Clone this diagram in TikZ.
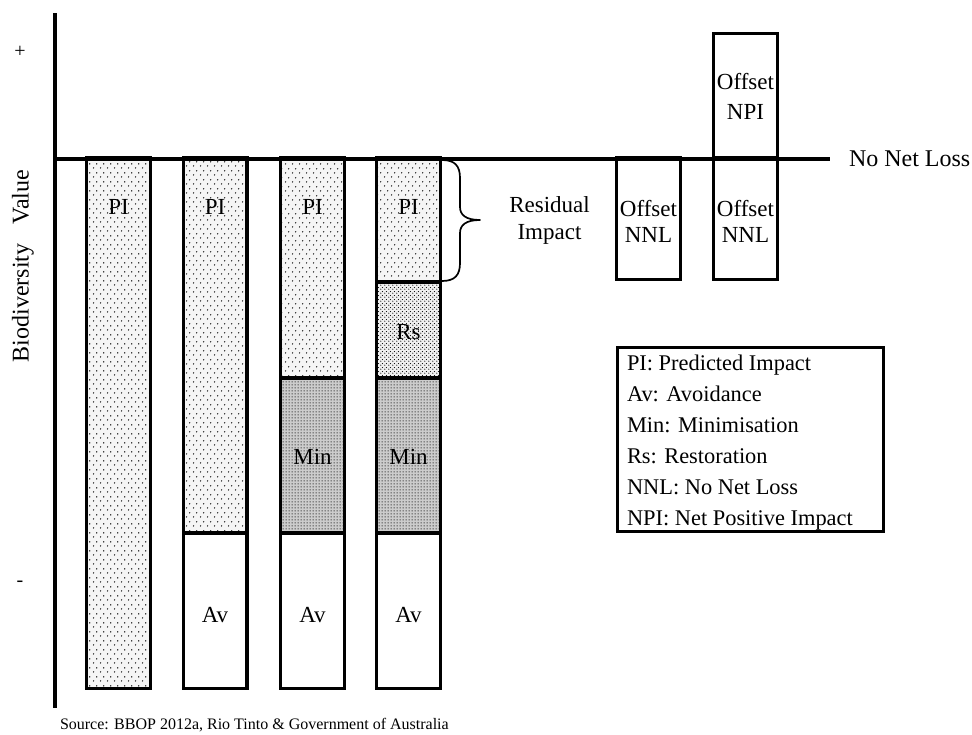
\documentclass[tikz,border=0pt]{standalone}
\usepackage{fontspec}
\setmainfont{Liberation Serif}
\usetikzlibrary{patterns}
\pgfdeclarepatternformonly{pidots}{\pgfqpoint{0pt}{0pt}}{\pgfqpoint{6.6pt}{8.6pt}}{\pgfqpoint{6.6pt}{8.6pt}}{%
  \pgfpathcircle{\pgfqpoint{1.65pt}{2.15pt}}{0.75pt}%
  \pgfpathcircle{\pgfqpoint{4.95pt}{6.45pt}}{0.75pt}%
  \pgfusepath{fill}}
\pgfdeclarepatternformonly{rsdots}{\pgfqpoint{0pt}{0pt}}{\pgfqpoint{4pt}{4pt}}{\pgfqpoint{4pt}{4pt}}{%
  \pgfpathcircle{\pgfqpoint{1pt}{1pt}}{0.7pt}%
  \pgfpathcircle{\pgfqpoint{3pt}{3pt}}{0.7pt}%
  \pgfusepath{fill}}
\pgfdeclarepatternformonly{mindots}{\pgfqpoint{0pt}{0pt}}{\pgfqpoint{3pt}{3pt}}{\pgfqpoint{3pt}{3pt}}{%
  \pgfpathcircle{\pgfqpoint{1.5pt}{1.5pt}}{0.75pt}%
  \pgfusepath{fill}}
\begin{document}
\begin{tikzpicture}[x=1pt,y=-1pt,
  every node/.style={inner sep=0pt, outer sep=0pt},
  lbl/.style={font=\fontsize{23}{26}\selectfont, align=center},
  bar/.style={draw, line width=3.3pt, minimum width=63.7pt},
  pibar/.style={bar, preaction={fill=black!4}, pattern=pidots},
  rsbar/.style={bar, preaction={fill=black!6}, pattern=rsdots},
  minbar/.style={bar, preaction={fill=black!20}, pattern=mindots},
  avbar/.style={bar, fill=white},
  offbox/.style={bar, fill=white},
  legbox/.style={draw, line width=3.5pt, minimum width=266pt, minimum height=184pt},
  legtext/.style={font=\fontsize{22.4}{26}\selectfont, anchor=base west},
  axisline/.style={line width=4pt},
  bracestyle/.style={line width=1.7pt, line join=round, line cap=round}]
\useasboundingbox (0,0) rectangle (972,734);
% column 1
\node[pibar, minimum height=530.5pt] (c1pi) at (118.5,423.25) {};
% column 2
\node[pibar, minimum height=375pt] (c2pi) at (215,345.5) {};
\node[avbar, minimum height=155.5pt] (c2av) at (215,610.75) {};
% column 3
\node[pibar, minimum height=220pt] (c3pi) at (312.5,268) {};
\node[minbar, minimum height=155pt] (c3min) at (312.5,455.5) {};
\node[avbar, minimum height=155.5pt] (c3av) at (312.5,610.75) {};
% column 4
\node[pibar, minimum height=124pt] (c4pi) at (408.5,220) {};
\node[rsbar, minimum height=96pt] (c4rs) at (408.5,330) {};
\node[minbar, minimum height=155pt] (c4min) at (408.5,455.5) {};
\node[avbar, minimum height=155.5pt] (c4av) at (408.5,610.75) {};
% offsets
\node[offbox, minimum height=121.5pt] (offa) at (648.5,218.75) {};
\node[offbox, minimum height=121.5pt] (offb) at (745.5,218.75) {};
\node[offbox, minimum height=124.5pt] (offc) at (745.5,95.75) {};
% axes
\coordinate (ytop) at (55,13);
\coordinate (ybot) at (55,708);
\coordinate (nnlL) at (55,158.5);
\coordinate (nnlR) at (830,158.5);
\draw[axisline] (ytop) -- (ybot);
\draw[axisline] (nnlL) -- (nnlR);
% labels in bars
\node[lbl] (t1pi) at (118.5,207) {PI};
\node[lbl] (t2pi) at (215,207) {PI};
\node[lbl] (t3pi) at (312.5,207) {PI};
\node[lbl] (t4pi) at (408.5,207) {PI};
\node[lbl] (t4rs) at (408.5,332) {Rs};
\node[lbl] (t3min) at (312.5,457) {Min};
\node[lbl] (t4min) at (408.5,457) {Min};
\node[lbl] (t2av) at (215,615) {Av};
\node[lbl] (t3av) at (312.5,615) {Av};
\node[lbl] (t4av) at (408.5,615) {Av};
\node[lbl] (toffa) at (648.5,221) {Offset\\NNL};
\node[lbl] (toffb) at (745.5,221) {Offset\\NNL};
\node[lbl, font=\fontsize{23}{30}\selectfont] (toffc) at (745.5,96) {Offset\\NPI};
% brace
\draw[bracestyle] (442,160) .. controls (455,160) and (460,166) .. (460,178)
  -- (460,207) .. controls (460,215) and (466,220) .. (480,220)
  .. controls (466,220) and (460,225) .. (460,233)
  -- (460,263) .. controls (460,275) and (455,281) .. (442,281);
\node[lbl, font=\fontsize{23}{27}\selectfont] (resid) at (549.5,220) {Residual\\Impact};
% right label
\node[lbl, font=\fontsize{24}{28}\selectfont, anchor=west] (nnl) at (849,159) {No Net Loss};
% axis labels
\node[font=\fontsize{20}{24}\selectfont] (plus) at (20,52) {+};
\node[font=\fontsize{20}{24}\selectfont] (minus) at (20,584) {-};
\node[font=\fontsize{24}{28}\selectfont, rotate=90] (ylab) at (23,266) {Biodiversity\hspace{0.8em}Value};
% legend
\node[legbox] (leg) at (750.5,439.5) {};
\node[legtext] (leg1) at (627,370) {PI: Predicted Impact};
\node[legtext] (leg2) at (627,401) {Av: Avoidance};
\node[legtext] (leg3) at (627,432) {Min: Minimisation};
\node[legtext] (leg4) at (627,463) {Rs: Restoration};
\node[legtext] (leg5) at (627,494) {NNL: No Net Loss};
\node[legtext] (leg6) at (627,525) {NPI: Net Positive Impact};
% source
\node[font=\fontsize{16}{19}\selectfont, anchor=west] (src) at (60,725) {Source: BBOP 2012a, Rio Tinto \& Government of Australia};
\end{tikzpicture}
\end{document}
